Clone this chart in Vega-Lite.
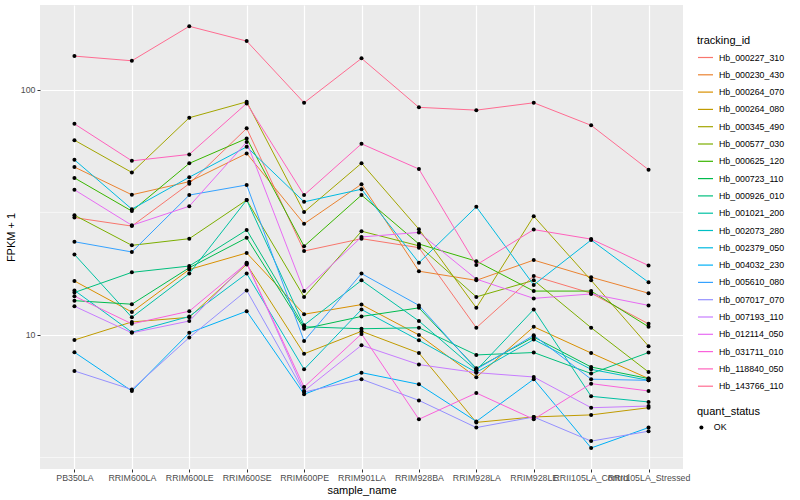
{
  "$schema": "https://vega.github.io/schema/vega-lite/v6.json",
  "autosize": {"type": "none"},
  "padding": {"left": 40, "top": 5, "right": 117, "bottom": 31},
  "width": 643,
  "height": 464,
  "background": "white",
  "config": {
    "font": "Liberation Sans",
    "view": {"fill": "#EBEBEB", "stroke": null},
    "axis": {
      "domain": false,
      "tickColor": "#333333",
      "tickSize": 3,
      "labelColor": "#4D4D4D",
      "labelFontSize": 8.8,
      "titleFontSize": 11,
      "titleFontWeight": "normal",
      "titleColor": "#000000",
      "gridColor": "#FFFFFF",
      "gridWidth": 1.2
    },
    "legend": {
      "titleFontSize": 11,
      "titleFontWeight": "normal",
      "titleColor": "#000000",
      "labelFontSize": 8.8,
      "labelColor": "#000000"
    }
  },
  "datasets": {
    "minor": [{"minor_break": 3.1623}, {"minor_break": 31.623}],
    "expr": [
      {"tracking_id":"Hb_000227_310","sample_name":"PB350LA","fpkm":30.1,"quant_status":"OK"},
      {"tracking_id":"Hb_000227_310","sample_name":"RRIM600LA","fpkm":27.8,"quant_status":"OK"},
      {"tracking_id":"Hb_000227_310","sample_name":"RRIM600LE","fpkm":41.4,"quant_status":"OK"},
      {"tracking_id":"Hb_000227_310","sample_name":"RRIM600SE","fpkm":69.6,"quant_status":"OK"},
      {"tracking_id":"Hb_000227_310","sample_name":"RRIM600PE","fpkm":22.0,"quant_status":"OK"},
      {"tracking_id":"Hb_000227_310","sample_name":"RRIM901LA","fpkm":24.7,"quant_status":"OK"},
      {"tracking_id":"Hb_000227_310","sample_name":"RRIM928BA","fpkm":22.7,"quant_status":"OK"},
      {"tracking_id":"Hb_000227_310","sample_name":"RRIM928LA","fpkm":10.7,"quant_status":"OK"},
      {"tracking_id":"Hb_000227_310","sample_name":"RRIM928LE","fpkm":17.4,"quant_status":"OK"},
      {"tracking_id":"Hb_000227_310","sample_name":"RRII105LA_Control","fpkm":14.8,"quant_status":"OK"},
      {"tracking_id":"Hb_000227_310","sample_name":"RRII105LA_Stressed","fpkm":11.1,"quant_status":"OK"},

      {"tracking_id":"Hb_000230_430","sample_name":"PB350LA","fpkm":48.4,"quant_status":"OK"},
      {"tracking_id":"Hb_000230_430","sample_name":"RRIM600LA","fpkm":37.3,"quant_status":"OK"},
      {"tracking_id":"Hb_000230_430","sample_name":"RRIM600LE","fpkm":42.2,"quant_status":"OK"},
      {"tracking_id":"Hb_000230_430","sample_name":"RRIM600SE","fpkm":55.0,"quant_status":"OK"},
      {"tracking_id":"Hb_000230_430","sample_name":"RRIM600PE","fpkm":28.4,"quant_status":"OK"},
      {"tracking_id":"Hb_000230_430","sample_name":"RRIM901LA","fpkm":41.2,"quant_status":"OK"},
      {"tracking_id":"Hb_000230_430","sample_name":"RRIM928BA","fpkm":18.2,"quant_status":"OK"},
      {"tracking_id":"Hb_000230_430","sample_name":"RRIM928LA","fpkm":16.7,"quant_status":"OK"},
      {"tracking_id":"Hb_000230_430","sample_name":"RRIM928LE","fpkm":20.2,"quant_status":"OK"},
      {"tracking_id":"Hb_000230_430","sample_name":"RRII105LA_Control","fpkm":17.2,"quant_status":"OK"},
      {"tracking_id":"Hb_000230_430","sample_name":"RRII105LA_Stressed","fpkm":14.8,"quant_status":"OK"},

      {"tracking_id":"Hb_000264_070","sample_name":"PB350LA","fpkm":16.6,"quant_status":"OK"},
      {"tracking_id":"Hb_000264_070","sample_name":"RRIM600LA","fpkm":12.4,"quant_status":"OK"},
      {"tracking_id":"Hb_000264_070","sample_name":"RRIM600LE","fpkm":18.5,"quant_status":"OK"},
      {"tracking_id":"Hb_000264_070","sample_name":"RRIM600SE","fpkm":21.6,"quant_status":"OK"},
      {"tracking_id":"Hb_000264_070","sample_name":"RRIM600PE","fpkm":12.15,"quant_status":"OK"},
      {"tracking_id":"Hb_000264_070","sample_name":"RRIM901LA","fpkm":13.3,"quant_status":"OK"},
      {"tracking_id":"Hb_000264_070","sample_name":"RRIM928BA","fpkm":10.0,"quant_status":"OK"},
      {"tracking_id":"Hb_000264_070","sample_name":"RRIM928LA","fpkm":6.72,"quant_status":"OK"},
      {"tracking_id":"Hb_000264_070","sample_name":"RRIM928LE","fpkm":10.8,"quant_status":"OK"},
      {"tracking_id":"Hb_000264_070","sample_name":"RRII105LA_Control","fpkm":8.44,"quant_status":"OK"},
      {"tracking_id":"Hb_000264_070","sample_name":"RRII105LA_Stressed","fpkm":6.64,"quant_status":"OK"},

      {"tracking_id":"Hb_000264_080","sample_name":"PB350LA","fpkm":9.54,"quant_status":"OK"},
      {"tracking_id":"Hb_000264_080","sample_name":"RRIM600LA","fpkm":11.3,"quant_status":"OK"},
      {"tracking_id":"Hb_000264_080","sample_name":"RRIM600LE","fpkm":11.8,"quant_status":"OK"},
      {"tracking_id":"Hb_000264_080","sample_name":"RRIM600SE","fpkm":19.4,"quant_status":"OK"},
      {"tracking_id":"Hb_000264_080","sample_name":"RRIM600PE","fpkm":8.38,"quant_status":"OK"},
      {"tracking_id":"Hb_000264_080","sample_name":"RRIM901LA","fpkm":10.35,"quant_status":"OK"},
      {"tracking_id":"Hb_000264_080","sample_name":"RRIM928BA","fpkm":8.44,"quant_status":"OK"},
      {"tracking_id":"Hb_000264_080","sample_name":"RRIM928LA","fpkm":4.40,"quant_status":"OK"},
      {"tracking_id":"Hb_000264_080","sample_name":"RRIM928LE","fpkm":4.63,"quant_status":"OK"},
      {"tracking_id":"Hb_000264_080","sample_name":"RRII105LA_Control","fpkm":4.72,"quant_status":"OK"},
      {"tracking_id":"Hb_000264_080","sample_name":"RRII105LA_Stressed","fpkm":5.05,"quant_status":"OK"},

      {"tracking_id":"Hb_000345_490","sample_name":"PB350LA","fpkm":62.3,"quant_status":"OK"},
      {"tracking_id":"Hb_000345_490","sample_name":"RRIM600LA","fpkm":46.0,"quant_status":"OK"},
      {"tracking_id":"Hb_000345_490","sample_name":"RRIM600LE","fpkm":76.9,"quant_status":"OK"},
      {"tracking_id":"Hb_000345_490","sample_name":"RRIM600SE","fpkm":89.3,"quant_status":"OK"},
      {"tracking_id":"Hb_000345_490","sample_name":"RRIM600PE","fpkm":31.7,"quant_status":"OK"},
      {"tracking_id":"Hb_000345_490","sample_name":"RRIM901LA","fpkm":50.2,"quant_status":"OK"},
      {"tracking_id":"Hb_000345_490","sample_name":"RRIM928BA","fpkm":27.0,"quant_status":"OK"},
      {"tracking_id":"Hb_000345_490","sample_name":"RRIM928LA","fpkm":12.9,"quant_status":"OK"},
      {"tracking_id":"Hb_000345_490","sample_name":"RRIM928LE","fpkm":30.5,"quant_status":"OK"},
      {"tracking_id":"Hb_000345_490","sample_name":"RRII105LA_Control","fpkm":16.7,"quant_status":"OK"},
      {"tracking_id":"Hb_000345_490","sample_name":"RRII105LA_Stressed","fpkm":9.0,"quant_status":"OK"},

      {"tracking_id":"Hb_000577_030","sample_name":"PB350LA","fpkm":30.8,"quant_status":"OK"},
      {"tracking_id":"Hb_000577_030","sample_name":"RRIM600LA","fpkm":23.2,"quant_status":"OK"},
      {"tracking_id":"Hb_000577_030","sample_name":"RRIM600LE","fpkm":24.7,"quant_status":"OK"},
      {"tracking_id":"Hb_000577_030","sample_name":"RRIM600SE","fpkm":35.5,"quant_status":"OK"},
      {"tracking_id":"Hb_000577_030","sample_name":"RRIM600PE","fpkm":14.3,"quant_status":"OK"},
      {"tracking_id":"Hb_000577_030","sample_name":"RRIM901LA","fpkm":26.5,"quant_status":"OK"},
      {"tracking_id":"Hb_000577_030","sample_name":"RRIM928BA","fpkm":23.1,"quant_status":"OK"},
      {"tracking_id":"Hb_000577_030","sample_name":"RRIM928LA","fpkm":14.3,"quant_status":"OK"},
      {"tracking_id":"Hb_000577_030","sample_name":"RRIM928LE","fpkm":16.7,"quant_status":"OK"},
      {"tracking_id":"Hb_000577_030","sample_name":"RRII105LA_Control","fpkm":10.7,"quant_status":"OK"},
      {"tracking_id":"Hb_000577_030","sample_name":"RRII105LA_Stressed","fpkm":7.06,"quant_status":"OK"},

      {"tracking_id":"Hb_000625_120","sample_name":"PB350LA","fpkm":43.7,"quant_status":"OK"},
      {"tracking_id":"Hb_000625_120","sample_name":"RRIM600LA","fpkm":32.0,"quant_status":"OK"},
      {"tracking_id":"Hb_000625_120","sample_name":"RRIM600LE","fpkm":50.1,"quant_status":"OK"},
      {"tracking_id":"Hb_000625_120","sample_name":"RRIM600SE","fpkm":63.3,"quant_status":"OK"},
      {"tracking_id":"Hb_000625_120","sample_name":"RRIM600PE","fpkm":23.0,"quant_status":"OK"},
      {"tracking_id":"Hb_000625_120","sample_name":"RRIM901LA","fpkm":37.2,"quant_status":"OK"},
      {"tracking_id":"Hb_000625_120","sample_name":"RRIM928BA","fpkm":23.5,"quant_status":"OK"},
      {"tracking_id":"Hb_000625_120","sample_name":"RRIM928LA","fpkm":20.0,"quant_status":"OK"},
      {"tracking_id":"Hb_000625_120","sample_name":"RRIM928LE","fpkm":15.1,"quant_status":"OK"},
      {"tracking_id":"Hb_000625_120","sample_name":"RRII105LA_Control","fpkm":15.1,"quant_status":"OK"},
      {"tracking_id":"Hb_000625_120","sample_name":"RRII105LA_Stressed","fpkm":10.8,"quant_status":"OK"},

      {"tracking_id":"Hb_000723_110","sample_name":"PB350LA","fpkm":13.8,"quant_status":"OK"},
      {"tracking_id":"Hb_000723_110","sample_name":"RRIM600LA","fpkm":13.35,"quant_status":"OK"},
      {"tracking_id":"Hb_000723_110","sample_name":"RRIM600LE","fpkm":18.8,"quant_status":"OK"},
      {"tracking_id":"Hb_000723_110","sample_name":"RRIM600SE","fpkm":24.9,"quant_status":"OK"},
      {"tracking_id":"Hb_000723_110","sample_name":"RRIM600PE","fpkm":10.6,"quant_status":"OK"},
      {"tracking_id":"Hb_000723_110","sample_name":"RRIM901LA","fpkm":11.9,"quant_status":"OK"},
      {"tracking_id":"Hb_000723_110","sample_name":"RRIM928BA","fpkm":12.9,"quant_status":"OK"},
      {"tracking_id":"Hb_000723_110","sample_name":"RRIM928LA","fpkm":7.31,"quant_status":"OK"},
      {"tracking_id":"Hb_000723_110","sample_name":"RRIM928LE","fpkm":9.81,"quant_status":"OK"},
      {"tracking_id":"Hb_000723_110","sample_name":"RRII105LA_Control","fpkm":7.40,"quant_status":"OK"},
      {"tracking_id":"Hb_000723_110","sample_name":"RRII105LA_Stressed","fpkm":6.64,"quant_status":"OK"},

      {"tracking_id":"Hb_000926_010","sample_name":"PB350LA","fpkm":14.9,"quant_status":"OK"},
      {"tracking_id":"Hb_000926_010","sample_name":"RRIM600LA","fpkm":18.0,"quant_status":"OK"},
      {"tracking_id":"Hb_000926_010","sample_name":"RRIM600LE","fpkm":19.1,"quant_status":"OK"},
      {"tracking_id":"Hb_000926_010","sample_name":"RRIM600SE","fpkm":26.8,"quant_status":"OK"},
      {"tracking_id":"Hb_000926_010","sample_name":"RRIM600PE","fpkm":10.8,"quant_status":"OK"},
      {"tracking_id":"Hb_000926_010","sample_name":"RRIM901LA","fpkm":10.6,"quant_status":"OK"},
      {"tracking_id":"Hb_000926_010","sample_name":"RRIM928BA","fpkm":10.7,"quant_status":"OK"},
      {"tracking_id":"Hb_000926_010","sample_name":"RRIM928LA","fpkm":8.29,"quant_status":"OK"},
      {"tracking_id":"Hb_000926_010","sample_name":"RRIM928LE","fpkm":8.48,"quant_status":"OK"},
      {"tracking_id":"Hb_000926_010","sample_name":"RRII105LA_Control","fpkm":6.96,"quant_status":"OK"},
      {"tracking_id":"Hb_000926_010","sample_name":"RRII105LA_Stressed","fpkm":8.48,"quant_status":"OK"},

      {"tracking_id":"Hb_001021_200","sample_name":"PB350LA","fpkm":21.3,"quant_status":"OK"},
      {"tracking_id":"Hb_001021_200","sample_name":"RRIM600LA","fpkm":11.8,"quant_status":"OK"},
      {"tracking_id":"Hb_001021_200","sample_name":"RRIM600LE","fpkm":17.8,"quant_status":"OK"},
      {"tracking_id":"Hb_001021_200","sample_name":"RRIM600SE","fpkm":35.5,"quant_status":"OK"},
      {"tracking_id":"Hb_001021_200","sample_name":"RRIM600PE","fpkm":10.96,"quant_status":"OK"},
      {"tracking_id":"Hb_001021_200","sample_name":"RRIM901LA","fpkm":16.7,"quant_status":"OK"},
      {"tracking_id":"Hb_001021_200","sample_name":"RRIM928BA","fpkm":11.4,"quant_status":"OK"},
      {"tracking_id":"Hb_001021_200","sample_name":"RRIM928LA","fpkm":7.18,"quant_status":"OK"},
      {"tracking_id":"Hb_001021_200","sample_name":"RRIM928LE","fpkm":12.7,"quant_status":"OK"},
      {"tracking_id":"Hb_001021_200","sample_name":"RRII105LA_Control","fpkm":5.62,"quant_status":"OK"},
      {"tracking_id":"Hb_001021_200","sample_name":"RRII105LA_Stressed","fpkm":5.33,"quant_status":"OK"},

      {"tracking_id":"Hb_002073_280","sample_name":"PB350LA","fpkm":15.2,"quant_status":"OK"},
      {"tracking_id":"Hb_002073_280","sample_name":"RRIM600LA","fpkm":10.26,"quant_status":"OK"},
      {"tracking_id":"Hb_002073_280","sample_name":"RRIM600LE","fpkm":11.9,"quant_status":"OK"},
      {"tracking_id":"Hb_002073_280","sample_name":"RRIM600SE","fpkm":17.8,"quant_status":"OK"},
      {"tracking_id":"Hb_002073_280","sample_name":"RRIM600PE","fpkm":7.24,"quant_status":"OK"},
      {"tracking_id":"Hb_002073_280","sample_name":"RRIM901LA","fpkm":12.7,"quant_status":"OK"},
      {"tracking_id":"Hb_002073_280","sample_name":"RRIM928BA","fpkm":9.51,"quant_status":"OK"},
      {"tracking_id":"Hb_002073_280","sample_name":"RRIM928LA","fpkm":7.04,"quant_status":"OK"},
      {"tracking_id":"Hb_002073_280","sample_name":"RRIM928LE","fpkm":9.58,"quant_status":"OK"},
      {"tracking_id":"Hb_002073_280","sample_name":"RRII105LA_Control","fpkm":7.24,"quant_status":"OK"},
      {"tracking_id":"Hb_002073_280","sample_name":"RRII105LA_Stressed","fpkm":6.53,"quant_status":"OK"},

      {"tracking_id":"Hb_002379_050","sample_name":"PB350LA","fpkm":51.8,"quant_status":"OK"},
      {"tracking_id":"Hb_002379_050","sample_name":"RRIM600LA","fpkm":32.6,"quant_status":"OK"},
      {"tracking_id":"Hb_002379_050","sample_name":"RRIM600LE","fpkm":44.0,"quant_status":"OK"},
      {"tracking_id":"Hb_002379_050","sample_name":"RRIM600SE","fpkm":58.5,"quant_status":"OK"},
      {"tracking_id":"Hb_002379_050","sample_name":"RRIM600PE","fpkm":34.9,"quant_status":"OK"},
      {"tracking_id":"Hb_002379_050","sample_name":"RRIM901LA","fpkm":39.3,"quant_status":"OK"},
      {"tracking_id":"Hb_002379_050","sample_name":"RRIM928BA","fpkm":19.7,"quant_status":"OK"},
      {"tracking_id":"Hb_002379_050","sample_name":"RRIM928LA","fpkm":33.3,"quant_status":"OK"},
      {"tracking_id":"Hb_002379_050","sample_name":"RRIM928LE","fpkm":16.0,"quant_status":"OK"},
      {"tracking_id":"Hb_002379_050","sample_name":"RRII105LA_Control","fpkm":24.4,"quant_status":"OK"},
      {"tracking_id":"Hb_002379_050","sample_name":"RRII105LA_Stressed","fpkm":16.4,"quant_status":"OK"},

      {"tracking_id":"Hb_004032_230","sample_name":"PB350LA","fpkm":8.50,"quant_status":"OK"},
      {"tracking_id":"Hb_004032_230","sample_name":"RRIM600LA","fpkm":5.91,"quant_status":"OK"},
      {"tracking_id":"Hb_004032_230","sample_name":"RRIM600LE","fpkm":10.2,"quant_status":"OK"},
      {"tracking_id":"Hb_004032_230","sample_name":"RRIM600SE","fpkm":12.5,"quant_status":"OK"},
      {"tracking_id":"Hb_004032_230","sample_name":"RRIM600PE","fpkm":5.73,"quant_status":"OK"},
      {"tracking_id":"Hb_004032_230","sample_name":"RRIM901LA","fpkm":7.02,"quant_status":"OK"},
      {"tracking_id":"Hb_004032_230","sample_name":"RRIM928BA","fpkm":6.29,"quant_status":"OK"},
      {"tracking_id":"Hb_004032_230","sample_name":"RRIM928LA","fpkm":4.44,"quant_status":"OK"},
      {"tracking_id":"Hb_004032_230","sample_name":"RRIM928LE","fpkm":6.60,"quant_status":"OK"},
      {"tracking_id":"Hb_004032_230","sample_name":"RRII105LA_Control","fpkm":3.46,"quant_status":"OK"},
      {"tracking_id":"Hb_004032_230","sample_name":"RRII105LA_Stressed","fpkm":4.19,"quant_status":"OK"},

      {"tracking_id":"Hb_005610_080","sample_name":"PB350LA","fpkm":24.0,"quant_status":"OK"},
      {"tracking_id":"Hb_005610_080","sample_name":"RRIM600LA","fpkm":21.8,"quant_status":"OK"},
      {"tracking_id":"Hb_005610_080","sample_name":"RRIM600LE","fpkm":37.2,"quant_status":"OK"},
      {"tracking_id":"Hb_005610_080","sample_name":"RRIM600SE","fpkm":40.9,"quant_status":"OK"},
      {"tracking_id":"Hb_005610_080","sample_name":"RRIM600PE","fpkm":9.45,"quant_status":"OK"},
      {"tracking_id":"Hb_005610_080","sample_name":"RRIM901LA","fpkm":17.8,"quant_status":"OK"},
      {"tracking_id":"Hb_005610_080","sample_name":"RRIM928BA","fpkm":13.2,"quant_status":"OK"},
      {"tracking_id":"Hb_005610_080","sample_name":"RRIM928LA","fpkm":7.24,"quant_status":"OK"},
      {"tracking_id":"Hb_005610_080","sample_name":"RRIM928LE","fpkm":9.97,"quant_status":"OK"},
      {"tracking_id":"Hb_005610_080","sample_name":"RRII105LA_Control","fpkm":6.60,"quant_status":"OK"},
      {"tracking_id":"Hb_005610_080","sample_name":"RRII105LA_Stressed","fpkm":6.53,"quant_status":"OK"},

      {"tracking_id":"Hb_007017_070","sample_name":"PB350LA","fpkm":7.13,"quant_status":"OK"},
      {"tracking_id":"Hb_007017_070","sample_name":"RRIM600LA","fpkm":5.99,"quant_status":"OK"},
      {"tracking_id":"Hb_007017_070","sample_name":"RRIM600LE","fpkm":9.76,"quant_status":"OK"},
      {"tracking_id":"Hb_007017_070","sample_name":"RRIM600SE","fpkm":15.2,"quant_status":"OK"},
      {"tracking_id":"Hb_007017_070","sample_name":"RRIM600PE","fpkm":5.85,"quant_status":"OK"},
      {"tracking_id":"Hb_007017_070","sample_name":"RRIM901LA","fpkm":6.60,"quant_status":"OK"},
      {"tracking_id":"Hb_007017_070","sample_name":"RRIM928BA","fpkm":5.41,"quant_status":"OK"},
      {"tracking_id":"Hb_007017_070","sample_name":"RRIM928LA","fpkm":4.19,"quant_status":"OK"},
      {"tracking_id":"Hb_007017_070","sample_name":"RRIM928LE","fpkm":4.63,"quant_status":"OK"},
      {"tracking_id":"Hb_007017_070","sample_name":"RRII105LA_Control","fpkm":3.69,"quant_status":"OK"},
      {"tracking_id":"Hb_007017_070","sample_name":"RRII105LA_Stressed","fpkm":4.05,"quant_status":"OK"},

      {"tracking_id":"Hb_007193_110","sample_name":"PB350LA","fpkm":13.1,"quant_status":"OK"},
      {"tracking_id":"Hb_007193_110","sample_name":"RRIM600LA","fpkm":10.2,"quant_status":"OK"},
      {"tracking_id":"Hb_007193_110","sample_name":"RRIM600LE","fpkm":11.4,"quant_status":"OK"},
      {"tracking_id":"Hb_007193_110","sample_name":"RRIM600SE","fpkm":19.7,"quant_status":"OK"},
      {"tracking_id":"Hb_007193_110","sample_name":"RRIM600PE","fpkm":5.91,"quant_status":"OK"},
      {"tracking_id":"Hb_007193_110","sample_name":"RRIM901LA","fpkm":9.08,"quant_status":"OK"},
      {"tracking_id":"Hb_007193_110","sample_name":"RRIM928BA","fpkm":7.57,"quant_status":"OK"},
      {"tracking_id":"Hb_007193_110","sample_name":"RRIM928LA","fpkm":7.02,"quant_status":"OK"},
      {"tracking_id":"Hb_007193_110","sample_name":"RRIM928LE","fpkm":6.74,"quant_status":"OK"},
      {"tracking_id":"Hb_007193_110","sample_name":"RRII105LA_Control","fpkm":5.05,"quant_status":"OK"},
      {"tracking_id":"Hb_007193_110","sample_name":"RRII105LA_Stressed","fpkm":5.13,"quant_status":"OK"},

      {"tracking_id":"Hb_012114_050","sample_name":"PB350LA","fpkm":39.1,"quant_status":"OK"},
      {"tracking_id":"Hb_012114_050","sample_name":"RRIM600LA","fpkm":28.0,"quant_status":"OK"},
      {"tracking_id":"Hb_012114_050","sample_name":"RRIM600LE","fpkm":33.5,"quant_status":"OK"},
      {"tracking_id":"Hb_012114_050","sample_name":"RRIM600SE","fpkm":61.2,"quant_status":"OK"},
      {"tracking_id":"Hb_012114_050","sample_name":"RRIM600PE","fpkm":15.1,"quant_status":"OK"},
      {"tracking_id":"Hb_012114_050","sample_name":"RRIM901LA","fpkm":25.1,"quant_status":"OK"},
      {"tracking_id":"Hb_012114_050","sample_name":"RRIM928BA","fpkm":26.2,"quant_status":"OK"},
      {"tracking_id":"Hb_012114_050","sample_name":"RRIM928LA","fpkm":16.9,"quant_status":"OK"},
      {"tracking_id":"Hb_012114_050","sample_name":"RRIM928LE","fpkm":14.1,"quant_status":"OK"},
      {"tracking_id":"Hb_012114_050","sample_name":"RRII105LA_Control","fpkm":14.7,"quant_status":"OK"},
      {"tracking_id":"Hb_012114_050","sample_name":"RRII105LA_Stressed","fpkm":13.2,"quant_status":"OK"},

      {"tracking_id":"Hb_031711_010","sample_name":"PB350LA","fpkm":14.4,"quant_status":"OK"},
      {"tracking_id":"Hb_031711_010","sample_name":"RRIM600LA","fpkm":11.1,"quant_status":"OK"},
      {"tracking_id":"Hb_031711_010","sample_name":"RRIM600LE","fpkm":12.5,"quant_status":"OK"},
      {"tracking_id":"Hb_031711_010","sample_name":"RRIM600SE","fpkm":19.6,"quant_status":"OK"},
      {"tracking_id":"Hb_031711_010","sample_name":"RRIM600PE","fpkm":6.13,"quant_status":"OK"},
      {"tracking_id":"Hb_031711_010","sample_name":"RRIM901LA","fpkm":10.1,"quant_status":"OK"},
      {"tracking_id":"Hb_031711_010","sample_name":"RRIM928BA","fpkm":4.53,"quant_status":"OK"},
      {"tracking_id":"Hb_031711_010","sample_name":"RRIM928LA","fpkm":5.80,"quant_status":"OK"},
      {"tracking_id":"Hb_031711_010","sample_name":"RRIM928LE","fpkm":4.53,"quant_status":"OK"},
      {"tracking_id":"Hb_031711_010","sample_name":"RRII105LA_Control","fpkm":6.33,"quant_status":"OK"},
      {"tracking_id":"Hb_031711_010","sample_name":"RRII105LA_Stressed","fpkm":5.91,"quant_status":"OK"},

      {"tracking_id":"Hb_118840_050","sample_name":"PB350LA","fpkm":72.6,"quant_status":"OK"},
      {"tracking_id":"Hb_118840_050","sample_name":"RRIM600LA","fpkm":51.3,"quant_status":"OK"},
      {"tracking_id":"Hb_118840_050","sample_name":"RRIM600LE","fpkm":54.5,"quant_status":"OK"},
      {"tracking_id":"Hb_118840_050","sample_name":"RRIM600SE","fpkm":88.0,"quant_status":"OK"},
      {"tracking_id":"Hb_118840_050","sample_name":"RRIM600PE","fpkm":37.2,"quant_status":"OK"},
      {"tracking_id":"Hb_118840_050","sample_name":"RRIM901LA","fpkm":60.2,"quant_status":"OK"},
      {"tracking_id":"Hb_118840_050","sample_name":"RRIM928BA","fpkm":47.5,"quant_status":"OK"},
      {"tracking_id":"Hb_118840_050","sample_name":"RRIM928LA","fpkm":19.3,"quant_status":"OK"},
      {"tracking_id":"Hb_118840_050","sample_name":"RRIM928LE","fpkm":26.9,"quant_status":"OK"},
      {"tracking_id":"Hb_118840_050","sample_name":"RRII105LA_Control","fpkm":24.6,"quant_status":"OK"},
      {"tracking_id":"Hb_118840_050","sample_name":"RRII105LA_Stressed","fpkm":19.2,"quant_status":"OK"},

      {"tracking_id":"Hb_143766_110","sample_name":"PB350LA","fpkm":137.2,"quant_status":"OK"},
      {"tracking_id":"Hb_143766_110","sample_name":"RRIM600LA","fpkm":131.3,"quant_status":"OK"},
      {"tracking_id":"Hb_143766_110","sample_name":"RRIM600LE","fpkm":181.5,"quant_status":"OK"},
      {"tracking_id":"Hb_143766_110","sample_name":"RRIM600SE","fpkm":158.0,"quant_status":"OK"},
      {"tracking_id":"Hb_143766_110","sample_name":"RRIM600PE","fpkm":88.5,"quant_status":"OK"},
      {"tracking_id":"Hb_143766_110","sample_name":"RRIM901LA","fpkm":134.3,"quant_status":"OK"},
      {"tracking_id":"Hb_143766_110","sample_name":"RRIM928BA","fpkm":84.8,"quant_status":"OK"},
      {"tracking_id":"Hb_143766_110","sample_name":"RRIM928LA","fpkm":82.6,"quant_status":"OK"},
      {"tracking_id":"Hb_143766_110","sample_name":"RRIM928LE","fpkm":88.5,"quant_status":"OK"},
      {"tracking_id":"Hb_143766_110","sample_name":"RRII105LA_Control","fpkm":71.6,"quant_status":"OK"},
      {"tracking_id":"Hb_143766_110","sample_name":"RRII105LA_Stressed","fpkm":47.2,"quant_status":"OK"}
    ]
  },
  "layer": [
    {
      "data": {"name": "minor"},
      "mark": {"type": "rule", "color": "#FFFFFF", "strokeWidth": 0.6},
      "encoding": {
        "y": {"field": "minor_break", "type": "quantitative", "title": "FPKM + 1",
              "scale": {"type": "log", "domain": [2.84, 221.7], "nice": false, "zero": false},
              "axis": {"values": [10, 100], "format": "d", "labelPadding": 2, "titlePadding": 4, "grid": true}}
      }
    },
    {
      "data": {"name": "expr"},
      "mark": {"type": "line", "strokeWidth": 1},
      "encoding": {
        "x": {
          "field": "sample_name", "type": "nominal", "title": "sample_name",
          "sort": ["PB350LA","RRIM600LA","RRIM600LE","RRIM600SE","RRIM600PE","RRIM901LA","RRIM928BA","RRIM928LA","RRIM928LE","RRII105LA_Control","RRII105LA_Stressed"],
          "scale": {"type": "point", "padding": 0.6},
          "axis": {"labelAngle": 0, "labelOverlap": false, "labelBound": false, "labelPadding": 1.5, "titlePadding": 2, "grid": true}
        },
        "y": {
          "field": "fpkm", "type": "quantitative", "title": "FPKM + 1",
          "scale": {"type": "log", "domain": [2.84, 221.7], "nice": false, "zero": false},
          "axis": {"values": [10, 100], "format": "d", "labelPadding": 2, "titlePadding": 4, "grid": true}
        },
        "color": {
          "field": "tracking_id", "type": "nominal", "title": "tracking_id",
          "scale": {
            "domain": ["Hb_000227_310","Hb_000230_430","Hb_000264_070","Hb_000264_080","Hb_000345_490","Hb_000577_030","Hb_000625_120","Hb_000723_110","Hb_000926_010","Hb_001021_200","Hb_002073_280","Hb_002379_050","Hb_004032_230","Hb_005610_080","Hb_007017_070","Hb_007193_110","Hb_012114_050","Hb_031711_010","Hb_118840_050","Hb_143766_110"],
            "range": ["#F8766D","#EA8331","#D89000","#C09B00","#A3A500","#7CAE00","#39B600","#00BB4E","#00BF7D","#00C1A3","#00BFC4","#00BAE0","#00B0F6","#35A2FF","#9590FF","#C77CFF","#E76BF3","#FA62DB","#FF62BC","#FF6C91"]
          },
          "legend": {"orient": "none", "legendX": 657, "legendY": 30, "symbolType": "stroke", "symbolSize": 225, "symbolStrokeWidth": 1.2, "rowPadding": 3.3, "labelOffset": 5, "titlePadding": 3}
        }
      }
    },
    {
      "data": {"name": "expr"},
      "mark": {"type": "point", "filled": true, "color": "#000000", "size": 16, "opacity": 1},
      "encoding": {
        "x": {"field": "sample_name", "type": "nominal",
              "sort": ["PB350LA","RRIM600LA","RRIM600LE","RRIM600SE","RRIM600PE","RRIM901LA","RRIM928BA","RRIM928LA","RRIM928LE","RRII105LA_Control","RRII105LA_Stressed"]},
        "y": {"field": "fpkm", "type": "quantitative", "title": "FPKM + 1"},
        "shape": {"field": "quant_status", "type": "nominal", "title": "quant_status",
                  "scale": {"range": ["circle"]},
                  "legend": {"orient": "none", "legendX": 657, "legendY": 401, "symbolSize": 16, "symbolFillColor": "#000000", "symbolStrokeColor": "#000000", "labelOffset": 8, "titlePadding": 6}}
      }
    }
  ]
}
